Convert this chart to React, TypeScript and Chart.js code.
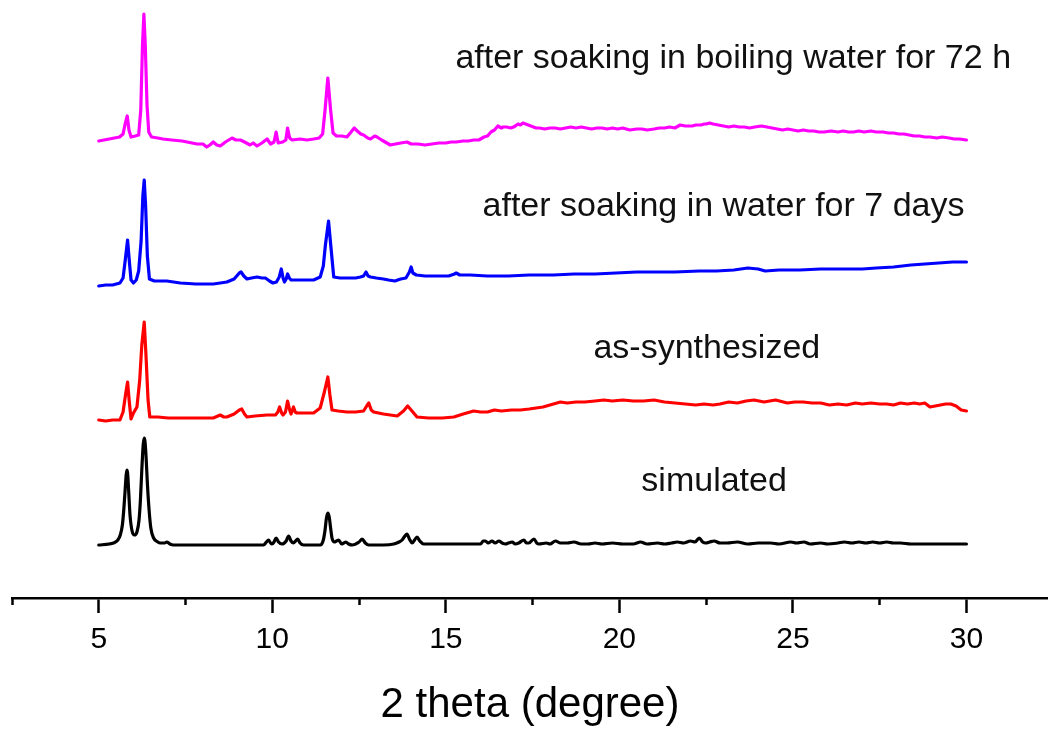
import React, { useEffect, useRef } from "react";
import { Chart, registerables } from "chart.js";

Chart.register(...registerables);

// ---------- axis ----------
const xMin = 2.5;
const xMax = 32.35;
const xMajorTicks = [5, 10, 15, 20, 25, 30];
const xMinorTicks = [2.5, 7.5, 12.5, 17.5, 22.5, 27.5];
const xTitle = "2 theta (degree)";
const yMin = 0;
const yMax = 598;

// ---------- series (2θ in degrees, intensity in a.u. above each baseline) ----------
const simulatedTheta = [5.0,5.3,5.42,5.55,5.62,5.68,5.72,5.76,5.79,5.81,5.83,5.86,5.9,5.96,6.03,6.1,6.16,6.2,6.24,6.28,6.31,6.33,6.36,6.4,6.45,6.5,6.58,6.7,6.77,6.9,6.96,7.05,7.15,8.0,9.0,9.75,9.83,9.89,9.95,9.99,10.05,10.11,10.18,10.28,10.4,10.47,10.54,10.61,10.67,10.73,10.8,10.9,11.38,11.47,11.52,11.56,11.6,11.64,11.68,11.72,11.79,11.85,11.91,12.0,12.06,12.12,12.2,12.3,12.5,12.59,12.68,12.78,13.2,13.5,13.65,13.74,13.82,13.88,13.95,14.03,14.1,14.17,14.25,14.36,14.8,15.4,16.0,16.08,16.14,16.22,16.33,16.42,16.53,16.62,16.72,16.8,16.91,17.0,17.1,17.25,17.32,17.39,17.54,17.62,17.68,17.9,18.0,18.16,18.3,18.5,18.69,18.9,19.1,19.3,19.5,19.8,20.1,20.4,20.61,20.8,21.1,21.3,21.5,21.67,21.85,22.05,22.18,22.3,22.4,22.49,22.6,22.73,22.9,23.1,23.4,23.7,24.0,24.36,24.6,24.94,25.1,25.32,25.5,25.8,26.0,26.3,26.48,26.7,26.9,27.1,27.3,27.5,27.7,27.9,28.1,28.4,28.8,29.2,29.6,30.0];
const simulatedIntensity = [0,1,2,5,10,20,35,55,70,75,72,55,30,14,10,13,25,45,75,100,107,104,90,62,35,17,7,3,2,2,3,1,0,0,0,0,3,5,2,1,3,7,3,1,4,9,4,2,4,6,2,0,0,5,15,27,32,28,17,7,3,4,5,1,2,3,1,0,3,6,2,0,0,1,3,5,9,11,6,2,5,8,4,1,1,1,1,4,4,2,4,2,4,2,1,2,3,1,2,5,2,2,6,2,1,2,1,4,2,2,3,1,1,2,1,2,1,1,3,1,2,1,2,3,2,4,3,7,3,2,3,4,2,2,3,1,2,2,1,3,2,3,1,2,1,2,3,2,3,2,3,2,3,2,2,1,1,1,1,1];

const asSynTheta = [5.0,5.2,5.4,5.61,5.7,5.77,5.83,5.88,5.93,6.0,6.1,6.18,6.24,6.31,6.36,6.42,6.47,6.7,7.0,7.35,7.8,8.3,8.5,8.6,8.69,8.9,9.05,9.12,9.2,9.27,9.5,9.85,10.09,10.16,10.21,10.27,10.31,10.38,10.44,10.5,10.54,10.61,10.66,10.71,11.0,11.19,11.38,11.5,11.6,11.66,11.72,11.9,12.15,12.4,12.63,12.72,12.78,12.85,12.92,13.2,13.4,13.6,13.78,13.9,14.0,14.17,14.5,14.9,15.23,15.5,15.8,16.0,16.2,16.4,16.6,16.9,17.15,17.4,17.6,17.8,18.0,18.2,18.3,18.5,18.75,19.0,19.3,19.55,19.8,20.1,20.4,20.7,21.0,21.3,21.6,21.9,22.2,22.44,22.7,22.9,23.15,23.4,23.65,23.88,24.17,24.5,24.84,25.05,25.3,25.55,25.8,26.05,26.3,26.55,26.8,27.0,27.25,27.5,27.7,27.9,28.1,28.3,28.5,28.65,28.8,28.95,29.1,29.25,29.4,29.55,29.7,29.85,30.0];
const asSynIntensity = [0,-1,0,0,8,25,38,18,1,7,13,40,75,98,65,20,3,3,2,2,2,2,5,3,3,6,10,11,6,3,4,5,5,8,13,7,5,8,19,10,6,13,8,7,7,7,12,28,43,25,10,9,8,8,9,14,17,10,8,6,5,4,9,14,10,3,2,2,3,6,9,8,8,10,9,10,10,11,12,13,15,17,18,17,18,18,19,20,19,20,19,19,20,18,17,16,15,16,15,16,18,17,19,20,18,20,17,18,18,17,17,15,16,15,17,16,17,16,16,15,17,16,17,16,17,13,14,15,16,16,14,10,9,8,7,7];

const waterTheta = [5.0,5.2,5.4,5.61,5.7,5.76,5.83,5.88,5.93,6.0,6.08,6.15,6.22,6.27,6.31,6.35,6.4,6.46,6.6,6.96,7.35,7.8,8.3,8.5,8.69,8.9,9.05,9.1,9.18,9.27,9.4,9.56,9.7,9.8,9.92,10.02,10.12,10.2,10.26,10.31,10.35,10.4,10.44,10.49,10.54,10.8,11.19,11.38,11.47,11.53,11.62,11.7,11.77,11.95,12.15,12.4,12.54,12.63,12.7,12.76,12.83,13.0,13.2,13.35,13.53,13.7,13.85,13.95,14.0,14.05,14.15,14.4,14.8,15.08,15.25,15.3,15.4,15.7,16.2,16.8,17.4,18.1,18.7,19.3,19.9,20.5,21.0,21.6,22.3,22.8,23.3,23.7,24.0,24.2,24.6,25.2,25.8,26.4,27.0,27.4,27.9,28.4,28.8,29.2,29.6,30.0];
const waterIntensity = [0,1,1,3,8,25,46,25,6,3,6,15,45,90,106,80,30,7,5,5,3,2,2,3,4,7,13,14,10,7,8,9,8,8,5,3,4,9,17,8,4,7,12,8,6,6,6,9,20,41,65,35,9,8,8,8,9,10,14,10,9,8,7,6,5,7,8,14,19,13,11,10,10,10,12,13,11,11,10,10,11,11,12,12,13,14,14,14,15,15,16,18,17,15,16,16,17,17,17,18,19,21,22,23,24,24];

const boilingTheta = [5.0,5.15,5.3,5.45,5.6,5.7,5.76,5.82,5.87,5.93,6.05,6.15,6.21,6.26,6.3,6.34,6.39,6.44,6.52,6.7,6.85,7.1,7.4,7.83,8.0,8.11,8.2,8.3,8.4,8.5,8.65,8.84,8.95,9.08,9.2,9.36,9.45,9.56,9.7,9.85,9.95,10.05,10.11,10.17,10.3,10.39,10.44,10.5,10.57,10.8,11.0,11.19,11.35,11.45,11.52,11.6,11.68,11.75,11.85,12.0,12.15,12.27,12.36,12.45,12.55,12.63,12.75,12.83,12.95,13.02,13.15,13.3,13.4,13.55,13.7,13.88,14.0,14.2,14.4,14.6,14.8,15.0,15.15,15.3,15.5,15.65,15.8,15.95,16.1,16.2,16.3,16.4,16.5,16.6,16.65,16.75,16.87,16.95,17.0,17.08,17.15,17.22,17.3,17.45,17.6,17.7,17.85,18.0,18.15,18.3,18.45,18.6,18.75,18.9,19.05,19.2,19.35,19.5,19.65,19.8,19.95,20.1,20.3,20.5,20.65,20.8,21.0,21.15,21.3,21.45,21.6,21.75,21.9,22.1,22.2,22.35,22.45,22.5,22.6,22.7,22.85,23.0,23.15,23.3,23.45,23.6,23.75,23.9,24.1,24.25,24.4,24.55,24.7,24.85,25.0,25.15,25.3,25.45,25.6,25.75,25.9,26.1,26.3,26.45,26.6,26.75,26.9,27.05,27.25,27.4,27.6,27.75,27.9,28.05,28.2,28.35,28.5,28.65,28.8,28.95,29.15,29.3,29.5,29.65,29.8,30.0];
const boilingIntensity = [-1,0,1,2,3,6,16,24,10,3,4,5,30,95,126,95,35,8,3,2,1,0,-1,-4,-4,-7,-5,-2,-5,-6,-2,2,0,0,-2,-5,-3,-6,-3,1,-4,-2,8,-3,-2,0,12,2,0,1,0,1,2,6,30,62,30,7,4,4,3,8,12,9,6,5,2,1,4,3,0,-3,-5,-4,-3,-2,-4,-4,-5,-4,-3,-3,-2,-2,-1,-1,0,0,3,4,8,10,14,12,13,13,12,13,14,16,15,17,16,14,12,12,11,12,12,11,12,13,12,13,12,11,12,12,11,12,11,12,10,11,11,10,11,12,12,13,12,15,14,14,15,15,16,16,17,16,15,14,13,14,13,13,12,13,14,13,12,11,10,11,10,9,10,9,9,8,8,9,8,9,8,8,9,8,9,8,8,7,7,6,6,5,4,4,3,3,2,3,2,1,1,0,0,-1,-2];

const seriesNames = ["simulated", "as-synthesized", "after soaking in water for 7 days", "after soaking in boiling water for 72 h"];
const seriesOffsets = [53, 178, 312, 458];
const seriesColors = ["#000000", "#ff0000", "#0000ff", "#ff00ff"];

// ---------- text annotations (2θ centre, height in y units) ----------
const labelTexts = ["after soaking in boiling water for 72 h", "after soaking in water for 7 days", "as-synthesized", "simulated"];
const labelX = [23.28, 23.0, 22.52, 22.73];
const labelY = [530, 382, 240, 107];

const FONT = '"Liberation Sans", Arial, Helvetica, sans-serif';

export default function App() {
  const ref = useRef<HTMLCanvasElement>(null);

  useEffect(() => {
    const canvas = ref.current;
    if (!canvas) return;

    const thetas = [simulatedTheta, asSynTheta, waterTheta, boilingTheta];
    const ints = [simulatedIntensity, asSynIntensity, waterIntensity, boilingIntensity];

    const datasets = thetas.map((th, k) => ({
      label: seriesNames[k],
      data: th.map((t, i) => ({ x: t, y: ints[k][i] + seriesOffsets[k] })),
      borderColor: seriesColors[k],
      backgroundColor: seriesColors[k],
      borderWidth: 3.2,
      borderJoinStyle: "round",
      borderCapStyle: "round",
      pointRadius: 0,
      tension: k === 0 ? 0.4 : 0,
      cubicInterpolationMode: k === 0 ? "monotone" : "default",
      fill: false,
      xAxisID: "x",
      yAxisID: "y",
    }));

    const labelPlugin = {
      id: "seriesLabels",
      afterDatasetsDraw(chart: any) {
        const { ctx, scales } = chart;
        ctx.save();
        ctx.font = `34px ${FONT}`;
        ctx.fillStyle = "#111111";
        ctx.textAlign = "center";
        ctx.textBaseline = "alphabetic";
        labelTexts.forEach((t, i) => {
          ctx.fillText(t, scales.x.getPixelForValue(labelX[i]), scales.y.getPixelForValue(labelY[i]));
        });
        ctx.restore();
      },
    };

    const chart = new Chart(canvas, {
      type: "line",
      data: { datasets },
      options: {
        responsive: false,
        animation: false,
        layout: { padding: { left: 12, right: 0, top: 0, bottom: 0 } },
        plugins: { legend: { display: false }, tooltip: { enabled: false } },
        scales: {
          x: {
            type: "linear",
            position: "bottom",
            min: xMin,
            max: xMax,
            afterBuildTicks: (s: any) => {
              s.ticks = xMajorTicks.map((v) => ({ value: v }));
            },
            afterFit: (s: any) => {
              s.height = 131;
            },
            grid: { drawOnChartArea: false, drawTicks: true, tickLength: 15, tickWidth: 2.5, tickColor: "#000" },
            border: { display: true, color: "#000", width: 2.5 },
            ticks: { color: "#000", font: { family: FONT, size: 30 }, padding: 9, maxRotation: 0, autoSkip: false },
            title: { display: true, text: xTitle, color: "#000", font: { family: FONT, size: 42 }, padding: { top: 0, bottom: -2 } },
          },
          xMinor: {
            type: "linear",
            axis: "x",
            position: { y: 0 },
            min: xMin,
            max: xMax,
            afterBuildTicks: (s: any) => {
              s.ticks = xMinorTicks.map((v) => ({ value: v }));
            },
            grid: { drawOnChartArea: false, drawTicks: true, tickLength: 7, tickWidth: 2.5, tickColor: "#000" },
            border: { display: false },
            ticks: { display: false },
          },
          y: { type: "linear", display: false, min: yMin, max: yMax },
        },
      } as any,
      plugins: [labelPlugin],
    });

    return () => chart.destroy();
  }, []);

  return (
    <div style={{ position: "fixed", left: 0, top: 0, width: 1048, height: 729, background: "#fff" }}>
      <canvas ref={ref} width={1048} height={729} style={{ display: "block", width: 1048, height: 729 }} />
    </div>
  );
}
